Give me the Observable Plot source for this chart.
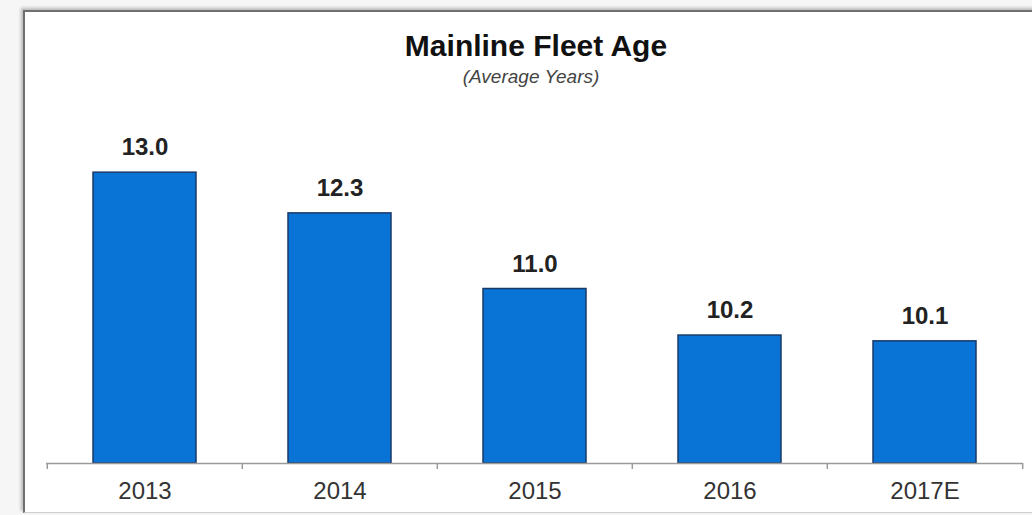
<!DOCTYPE html>
<html>
<head>
<meta charset="utf-8">
<script src="https://cdn.jsdelivr.net/npm/d3@7"></script>
<script src="https://cdn.jsdelivr.net/npm/@observablehq/plot@0.6"></script>
<style>
  html, body { margin: 0; padding: 0; background: #f6f6f6; }
  #page { position: relative; width: 1032px; height: 515px; overflow: hidden; font-family: "Liberation Sans", Arial, sans-serif; }
  #frame { position: absolute; left: 23px; top: 10px; width: 1020px; height: 500px; background: #fff;
           border-left: 2px solid #6f6f6f; border-top: 2px solid #6f6f6f; border-bottom: 1px solid #cfcfcf;
           box-shadow: -2px -2px 3px rgba(0,0,0,0.25); }
  #title { position: absolute; left: 536px; top: 31px; transform: translateX(-50%); white-space: nowrap;
           font-size: 30px; font-weight: bold; color: #111; line-height: 1; }
  #subtitle { position: absolute; left: 531px; top: 67px; transform: translateX(-50%); white-space: nowrap;
           font-size: 19px; font-style: italic; color: #444; line-height: 1; }
  #chart { position: absolute; left: 0; top: 95px; }
</style>
</head>
<body>
<div id="page">
  <div id="frame"></div>
  <div id="title">Mainline Fleet Age</div>
  <div id="subtitle">(Average Years)</div>
  <div id="chart"></div>
</div>
<script>
const years = ["2013", "2014", "2015", "2016", "2017E"];
const fleetAge = [13.0, 12.3, 11.0, 10.2, 10.1];
const yMin = 8;
const yMax = 14;

const data = years.map((year, i) => ({year, value: fleetAge[i]}));

const width = 1032, height = 420;
const marginLeft = 46, marginRight = 9, marginTop = 19, marginBottom = 52;
const step = (width - marginLeft - marginRight) / years.length;

const plot = Plot.plot({
  width, height, marginLeft, marginRight, marginTop, marginBottom,
  style: {fontFamily: '"Liberation Sans", Arial, sans-serif', background: "transparent", overflow: "visible"},
  x: {domain: years, paddingInner: 0.47, paddingOuter: 0.235, axis: null, label: null},
  y: {domain: [yMin, yMax], axis: null},
  marks: [
    Plot.barY(data, {x: "year", y1: yMin, y2: "value", fill: "#0a73d6", stroke: "#183a68", strokeWidth: 1.5}),
    Plot.ruleY([yMin], {stroke: "#9a9a9a", strokeWidth: 1.5}),
    Plot.ruleX(years, {x: d => d, dx: -step / 2, y1: yMin, y2: yMin, insetBottom: -6, stroke: "#9a9a9a", strokeWidth: 1.5}),
    Plot.ruleX(years.slice(-1), {x: d => d, dx: step / 2, y1: yMin, y2: yMin, insetBottom: -6, stroke: "#9a9a9a", strokeWidth: 1.5}),
    Plot.text(data, {x: "year", y: "value", text: d => d.value.toFixed(1), dy: -25, fontSize: 24, fontWeight: "bold", fill: "#222"}),
    Plot.axisX({tickSize: 0, tickPadding: 18, fontSize: 24, color: "#333", tickFormat: d => d, anchor: "bottom", label: null})
  ]
});
document.getElementById("chart").appendChild(plot);
</script>
</body>
</html>
